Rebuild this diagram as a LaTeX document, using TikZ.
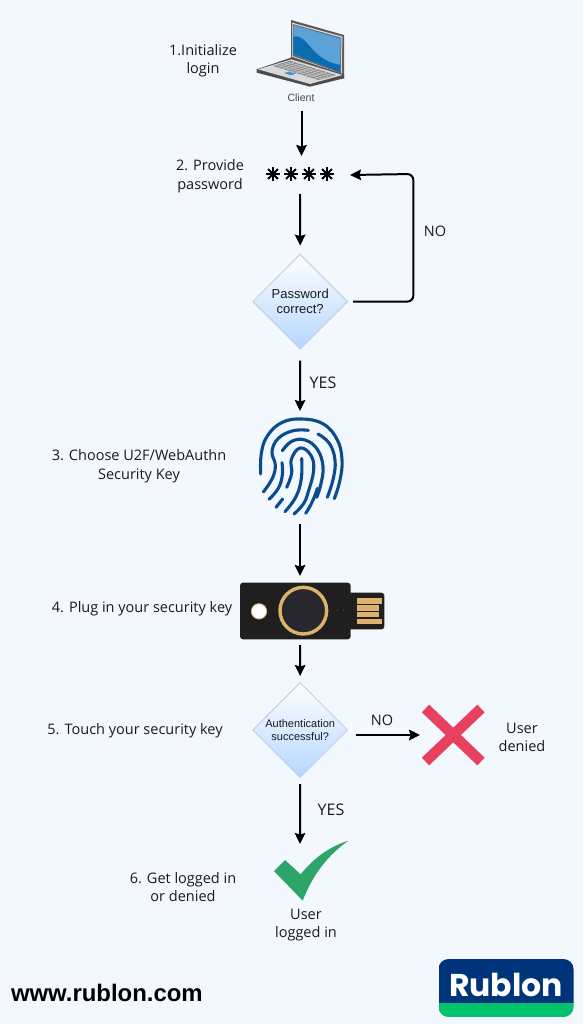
\documentclass[tikz,border=0pt]{standalone}
\usepackage{fontspec}
\setmainfont{Open Sans}
\newfontfamily\diafont{Liberation Sans}
\newfontfamily\urlfont{Liberation Sans}
\newfontfamily\logofont{Poppins}
\usetikzlibrary{arrows.meta,shapes.geometric,calc}
\definecolor{bgc}{HTML}{F3F8FF}
\definecolor{diaedge}{HTML}{BFD0E4}
\definecolor{diabot}{HTML}{B5D6FF}
\definecolor{txt}{HTML}{1A1A1A}
\definecolor{fpblue}{HTML}{0B4C8E}
\definecolor{keyblk}{HTML}{1F1F1F}
\definecolor{keypad}{HTML}{27272D}
\definecolor{gold}{HTML}{DDB36C}
\definecolor{crossc}{HTML}{E8415F}
\definecolor{checkc}{HTML}{2EA568}
\definecolor{navy}{HTML}{00347A}
\definecolor{grn}{HTML}{00C36B}
\definecolor{scrlight}{HTML}{5AA2D8}
\definecolor{scrdark}{HTML}{0A6CB0}
\definecolor{padblue}{HTML}{3C9AD8}
\tikzset{
  x=1pt,y=-1pt,
  flow/.style={draw=black,line width=2pt,-{Stealth[length=11pt,width=10.5pt,inset=1.5pt]}},
  decision/.style={diamond,aspect=1,draw=diaedge,line width=1pt,top color=white,bottom color=diabot,middle color=bgc!60!diabot,inner sep=0pt,minimum size=95pt,align=center,text=txt},
  label/.style={text=txt,align=center,font=\fontsize{14.5}{18.5}\selectfont,inner sep=0pt},
  yeslabel/.style={text=txt,align=center,font=\fontsize{16}{18}\selectfont,inner sep=0pt},
  iconbox/.style={inner sep=0pt,outer sep=0pt,draw=none},
  zoomed/.style={x=0.33333pt,y=-0.33333pt},
  fp/.style={draw=fpblue,line width=3.1pt,line cap=round,line join=round},
}
\begin{document}
\begin{tikzpicture}
\path[use as bounding box,fill=bgc] (0,0) rectangle (583,1024);

% invisible extents of the pictured icons
\node[iconbox,minimum width=90pt,minimum height=91pt] (client) at (301.5,65.5) {};
\node[iconbox,minimum width=100pt,minimum height=38pt] (stars) at (300,175) {};
\node[iconbox,minimum width=90pt,minimum height=113pt] (fprint) at (300,467.5) {};
\node[iconbox,minimum width=146pt,minimum height=69pt] (ykey) at (300,610.5) {};
\node[iconbox,minimum width=66pt,minimum height=66pt] (xmark) at (453,735) {};
\node[iconbox,minimum width=76pt,minimum height=36pt] (cmark) at (300,862) {};

% laptop
\begin{scope}[shift={(230,10)},zoomed]
\fill[black!65] (183,30) -- (342,75) -- (342,205) -- (183,150) -- cycle;
\fill[white!90!black] (186,38) -- (337,80) -- (336,192) -- (186,140) -- cycle;
\fill[black!60] (188,42) -- (334,83) -- (333,190) -- (188,138) -- cycle;
\fill[scrlight] (190,45) -- (332,86) -- (330,186) -- (190,132) -- cycle;
\fill[scrdark] (190,80) .. controls (235,70) and (240,150) .. (331,165) -- (330,186) -- (190,132) -- cycle;
\fill[black!70] (80,178) -- (183,143) -- (342,193) -- (342,205) -- (240,230) -- (80,188) -- cycle;
\fill[black!15] (84,178) -- (184,148) -- (338,195) -- (240,222) -- cycle;
\fill[black!45] (130,168) -- (180,152) -- (318,195) -- (265,210) -- cycle;
\foreach \t in {0.2,0.4,0.6,0.8}{
  \draw[black!15,line width=0.35pt] ($(130,168)!\t!(180,152)$) -- ($(265,210)!\t!(318,195)$);
}
\foreach \t in {0.1,0.2,...,0.9}{
  \draw[black!15,line width=0.35pt] ($(130,168)!\t!(265,210)$) -- ($(180,152)!\t!(318,195)$);
}
\fill[padblue] (162,189) -- (178,185) -- (198,191) -- (182,196) -- cycle;
\end{scope}
\node[iconbox,text=txt!80,font=\diafont\fontsize{10.5}{12}\selectfont] (clientlabel) at (301,97.5) {Client};

% asterisks
\foreach \px in {273,291,309,327}{
  \foreach \ang in {0,45,90,135}{
    \draw[black,line width=1.8pt] (\px,174) ++(\ang:7) -- ++(\ang+180:14);
  }
}

% fingerprint
\begin{scope}[shift={(240,410)},zoomed]
\draw[fp] plot[smooth,tension=0.7] coordinates {(62,192) (64,130) (82,78) (125,38) (185,27) (250,42) (292,90) (306,150) (300,210) (283,266)};
\draw[fp] plot[smooth,tension=0.7] coordinates {(70,246) (97,205) (106,165) (96,125) (115,85) (160,62) (205,61)};
\draw[fp] plot[smooth,tension=0.7] coordinates {(234,72) (268,100) (285,150) (280,205) (262,262)};
\draw[fp] plot[smooth,tension=0.7] coordinates {(87,268) (115,235) (127,195) (126,158)};
\draw[fp] plot[smooth,tension=0.7] coordinates {(127,122) (155,94) (195,90) (232,118) (249,170) (242,225) (230,262)};
\draw[fp] plot[smooth,tension=0.7] coordinates {(140,232) (155,190) (154,148) (180,114) (212,135) (221,180) (205,245) (190,282) (162,312)};
\draw[fp] plot[smooth,tension=0.7] coordinates {(135,305) (168,260) (184,205) (185,145)};
\draw[fp] (108,292) -- (128,267);
\draw[fp] (197,310) .. controls (212,288) and (224,262) .. (232,235);
\end{scope}

% security key
\begin{scope}[shift={(230,570)},zoomed]
\fill[keyblk,rounded corners=3pt] (350,68) rectangle (463,178);
\fill[keyblk,rounded corners=3pt] (30,38) rectangle (362,208);
\fill[gold] (380,84) rectangle (456,103);
\fill[gold] (380,106) rectangle (447,122);
\fill[gold] (380,125) rectangle (447,142);
\fill[gold] (380,146) rectangle (456,163);
\fill[keypad] (220,122) circle (72);
\draw[gold,line width=3.4pt] (220,122) circle (70);
\draw[fill=white,draw=gold,line width=0.8pt] (87,124) circle (23);
\fill[black!50] (322,120) circle (1.5) (340,120) circle (1.5);
\end{scope}

% cross
\draw[crossc,line width=10.6pt] (425.5,708.5) -- (481,761.5);
\draw[crossc,line width=10.6pt] (481,708.5) -- (425.5,761.5);

% check
\begin{scope}[shift={(260,830)},zoomed]
\fill[checkc] (42,123) -- (75,90) -- (122,133) .. controls (165,80) and (210,50) .. (265,32) .. controls (205,75) and (160,130) .. (128,212) -- cycle;
\end{scope}

% decisions
\node[decision,font=\diafont\fontsize{13}{14.5}\selectfont] (d1) at (300.2,301.6) {Password\\correct?};
\node[decision,font=\diafont\fontsize{11}{13.6}\selectfont] (d2) at (300.2,730) {Authentication\\successful?};

% connectors
\coordinate (fbc) at (413.3,174);
\draw[flow] (client.south) -- (client.south |- stars.north);
\draw[flow,shorten >=8pt] (stars.south) -- (d1.north);
\draw[flow,rounded corners=6pt,shorten <=5pt] (d1.east) -| (fbc) -- (stars.east);
\draw[flow,shorten <=11pt] (d1.south) -- (fprint.north);
\draw[flow] (fprint.south) -- (ykey.north);
\draw[flow,shorten >=6pt] (ykey.south) -- (d2.north);
\draw[flow,shorten <=8pt] ([yshift=-5pt]d2.east) -- (xmark.west);
\draw[flow,shorten <=6pt] (d2.south) -- (cmark.north);

% labels
\node[label] (l1) at (203,60.5) {1.Initialize\\login};
\node[label] (l2) at (210,176) {2. Provide\\password};
\node[label] (no1) at (435,231.5) {NO};
\node[yeslabel] (yes1) at (323,382.5) {YES};
\node[label] (l3) at (139,466) {3. Choose U2F/WebAuthn\\Security Key};
\node[label] (l4) at (142,609) {4. Plug in your security key};
\node[label] (l5) at (135,731) {5. Touch your security key};
\node[label] (no2) at (382,720.5) {NO};
\node[label] (denied) at (522,737.5) {User\\denied};
\node[yeslabel] (yes2) at (331,809.5) {YES};
\node[label] (l6) at (183,887) {6. Get logged in\\or denied};
\node[label] (loggedin) at (306,925) {User\\logged in};

% footer
\node[iconbox,anchor=west,text=black,font=\urlfont\bfseries\fontsize{23.9}{26}\selectfont] (url) at (11,993) {www.rublon.com};
\begin{scope}
\path[clip,rounded corners=10pt] (438.5,959) rectangle (573.5,1017);
\fill[navy] (438.5,959) rectangle (573.5,1003);
\fill[grn] (438.5,1003) rectangle (573.5,1017);
\end{scope}
\node[iconbox,text=white,font=\logofont\bfseries\fontsize{31.5}{33}\selectfont] (logo) at (506,985) {Rublon};
\end{tikzpicture}
\end{document}
